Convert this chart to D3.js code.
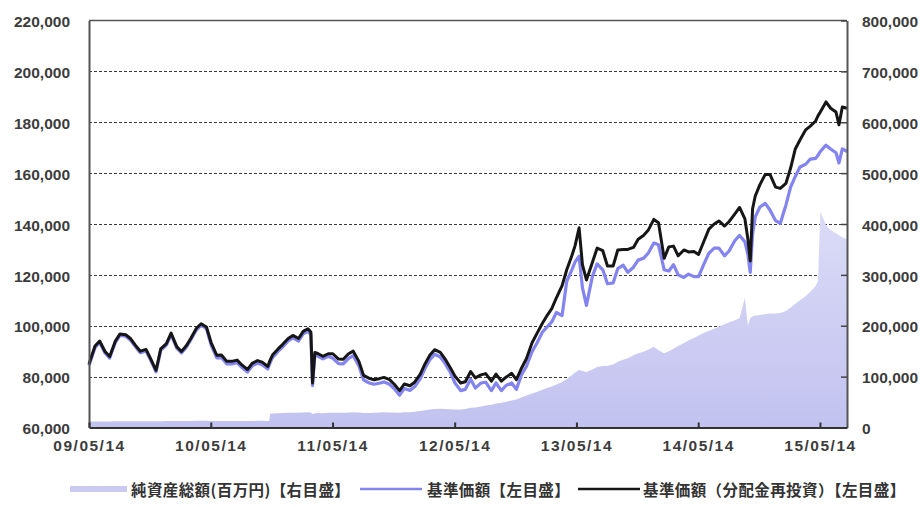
<!DOCTYPE html>
<html><head><meta charset="utf-8">
<script src="https://cdn.jsdelivr.net/npm/d3@7"></script>
<style>body{margin:0;background:#fff;} svg{display:block;}</style>
</head><body>
<svg id="chart" width="920" height="507"></svg>
<script>
const dates = [
"2009-05-14","2009-06-01","2009-06-15","2009-07-01","2009-07-15","2009-08-01","2009-08-15","2009-09-01","2009-09-15","2009-10-01","2009-10-15","2009-11-01","2009-11-15","2009-12-01","2009-12-15",
"2010-01-01","2010-01-15","2010-02-01","2010-02-15","2010-03-01","2010-03-15","2010-04-01","2010-04-15","2010-05-01","2010-05-15","2010-06-01","2010-06-15","2010-07-01","2010-07-15","2010-08-01","2010-08-15","2010-09-01","2010-09-15","2010-10-01","2010-10-15","2010-11-01","2010-11-05","2010-11-08","2010-11-15","2010-12-01","2010-12-15",
"2011-01-01","2011-01-15","2011-02-01","2011-02-15","2011-03-01","2011-03-10","2011-03-15","2011-03-22","2011-04-01","2011-04-15","2011-05-01","2011-05-15","2011-06-01","2011-06-15","2011-07-01","2011-07-15","2011-08-01","2011-08-15","2011-09-01","2011-09-15","2011-10-01","2011-10-15","2011-11-01","2011-11-15","2011-12-01","2011-12-15",
"2012-01-01","2012-01-15","2012-02-01","2012-02-15","2012-03-01","2012-03-15","2012-04-01","2012-04-15","2012-05-01","2012-05-15","2012-06-01","2012-06-15","2012-07-01","2012-07-15","2012-08-01","2012-08-15","2012-09-01","2012-09-15","2012-10-01","2012-10-15","2012-11-01","2012-11-15","2012-12-01","2012-12-15",
"2013-01-01","2013-01-15","2013-02-01","2013-02-15","2013-03-01","2013-03-15","2013-04-01","2013-04-15","2013-05-01","2013-05-10","2013-05-22","2013-06-01","2013-06-13","2013-07-01","2013-07-15","2013-08-01","2013-08-15","2013-09-01","2013-09-15","2013-10-01","2013-10-15","2013-11-01","2013-11-15","2013-12-01","2013-12-15",
"2014-01-01","2014-01-15","2014-02-01","2014-02-15","2014-03-01","2014-03-15","2014-04-01","2014-04-15","2014-05-01","2014-05-15","2014-06-01","2014-06-15","2014-07-01","2014-07-15","2014-08-01","2014-08-15","2014-09-01","2014-09-15","2014-10-01","2014-10-10","2014-10-17","2014-10-24","2014-11-01","2014-11-15","2014-12-01","2014-12-15",
"2015-01-01","2015-01-15","2015-02-01","2015-02-15","2015-03-01","2015-03-15","2015-04-01","2015-04-15","2015-05-01","2015-05-08","2015-05-15","2015-06-01","2015-06-15","2015-07-01","2015-07-10","2015-07-20","2015-08-03"
];
// 基準価額（分配金再投資）
const navReinvested = [
85000,92000,94000,89900,87900,94000,96800,96500,95000,92200,90000,90700,87000,82500,90900,
93000,97100,91800,89900,92000,95000,99000,100800,99500,93400,88400,88500,86000,86000,86500,84600,82800,85200,86300,85700,84000,85500,86500,88500,90800,92600,
95000,96200,95000,97800,98800,97500,77500,89500,89000,88000,89000,89000,86900,86800,89000,90000,86000,80500,79300,78800,79200,79700,78800,77000,74500,77100,
76400,77800,81000,85000,88500,90600,89500,87000,83500,80200,77500,78000,82000,79500,80700,81200,78200,81000,78200,79800,81300,78800,83500,87000,
93300,96800,101000,104000,106700,111000,115800,122000,127800,131500,138500,124000,118000,125000,130500,129500,123500,123500,129800,130000,130000,130800,134000,135500,137500,
141800,140500,126500,131000,131300,127500,129800,129000,129200,128000,133500,138000,140000,141200,139200,141000,144000,146500,142000,134000,125500,146000,151000,155500,159500,159500,
154500,154000,156000,162000,169500,173000,177000,178500,180500,182500,184000,188000,185500,184000,179000,186000,185500
];
// 基準価額
const nav = [
84400,91400,93400,89300,87300,93400,96200,95900,94400,91600,89400,90100,86400,81900,90300,
92400,96500,91200,89300,91400,94400,98400,100200,98900,92400,87400,87500,85000,85000,85500,83600,81800,84200,85300,84700,83000,84500,85500,87500,89800,91600,
94000,95200,94000,96800,97800,96500,76500,88500,88000,87000,88000,87200,85100,85000,87200,88200,84200,78700,77500,77000,77400,77900,77000,75200,72700,75300,
74600,76000,79200,83200,86700,88800,87700,85200,81700,77500,74500,75000,79000,75500,77500,77800,74500,77500,74500,76500,77500,75000,80900,84000,
89800,93000,97500,99500,101500,105200,104000,117500,122200,125100,127300,115000,108000,119500,124300,122000,116500,116800,122500,123800,121000,123000,125800,126500,128500,
132500,131800,122000,121500,124000,120000,119000,120300,119300,119300,124500,128500,130500,130500,127500,129500,133500,135500,133000,128000,121000,136000,142800,146700,148100,145500,
141300,140200,147500,154500,158700,162400,163500,165500,165800,167000,168500,171000,169500,168000,164000,169500,168500
];
// 純資産総額（百万円）
const netAssets = [
12000,12000,11800,11900,12000,12200,12100,12300,12400,12300,12500,12400,12300,12100,12500,
12600,12900,12700,12600,12800,13000,13300,13500,13400,13000,12800,12900,12700,12800,12900,12800,12600,12900,13100,13100,13000,13000,27000,27500,28000,28300,
28800,29000,29000,29500,29800,29500,26500,28000,28300,28200,28800,29000,28800,29000,29600,30000,29500,28500,28600,28800,29300,29800,29600,29500,29000,30000,
30200,31000,32500,34000,35500,36500,36800,36500,36000,35500,35500,36500,39000,39500,41500,43000,44500,47000,48500,50500,53000,55000,59500,63000,
67000,70000,74000,77500,80500,84500,89500,95000,103000,108000,113000,111000,109000,114000,119000,121000,121500,124000,129000,133000,136000,142000,146000,149000,153000,
158500,152000,146000,150000,155000,160000,166000,171000,176000,181000,186000,190000,194000,198000,203000,207000,211000,215000,255000,200000,215000,218000,220000,221000,223000,224000,
224000,225000,229000,236000,243000,250000,258000,267000,278000,288000,425000,398000,388000,382000,378000,374000,370000
];
const leftTicks = [60000,80000,100000,120000,140000,160000,180000,200000,220000];
const rightTicks = [0,100000,200000,300000,400000,500000,600000,700000,800000];
const xTickDates = ["2009-05-14","2010-05-14","2011-05-14","2012-05-14","2013-05-14","2014-05-14","2015-05-14"];
const xTickLabels = ["09/05/14","10/05/14","11/05/14","12/05/14","13/05/14","14/05/14","15/05/14"];
const legendLabels = ["純資産総額(百万円)【右目盛】","基準価額【左目盛】","基準価額（分配金再投資）【左目盛】"];
const xDomain = ["2009-05-14","2015-08-03"];

const parse = d3.timeParse("%Y-%m-%d");
const m = {left:89, right:847, top:20.5, bottom:427.5};
const svg = d3.select("#chart");
const x = d3.scaleTime().domain(xDomain.map(parse)).range([m.left, m.right]);
const yL = d3.scaleLinear().domain([60000,220000]).range([m.bottom, m.top]);
const yR = d3.scaleLinear().domain([0,800000]).range([m.bottom, m.top]);

const data = dates.map((d,i)=>({date:parse(d), nr:navReinvested[i], nav:nav[i], aum:netAssets[i]}));

const defs = svg.append("defs");
const grad = defs.append("linearGradient").attr("id","areaGrad")
  .attr("gradientUnits","userSpaceOnUse").attr("x1",0).attr("x2",0).attr("y1",m.top).attr("y2",m.bottom);
grad.append("stop").attr("offset","0%").attr("stop-color","#f2f2fe");
grad.append("stop").attr("offset","100%").attr("stop-color","#c2c2f0");

// gridlines
svg.append("g").selectAll("line").data(leftTicks.filter(t=>t>60000 && t<220000)).join("line")
  .attr("x1",m.left).attr("x2",m.right).attr("y1",d=>Math.round(yL(d))+0.5).attr("y2",d=>Math.round(yL(d))+0.5)
  .attr("stroke","#3a3a3a").attr("stroke-width",1.2).attr("stroke-dasharray","3,2");

// area
svg.append("path").datum(data)
  .attr("d", d3.area().x(d=>x(d.date)).y0(yR(0)).y1(d=>yR(d.aum)))
  .attr("fill","url(#areaGrad)");

// lines
svg.append("path").datum(data)
  .attr("d", d3.line().x(d=>x(d.date)).y(d=>yL(d.nav)))
  .attr("fill","none").attr("stroke","#8484f0").attr("stroke-width",3.2).attr("stroke-linejoin","round");
svg.append("path").datum(data)
  .attr("d", d3.line().x(d=>x(d.date)).y(d=>yL(d.nr)))
  .attr("fill","none").attr("stroke","#161616").attr("stroke-width",3).attr("stroke-linejoin","round");

// top frame
svg.append("line").attr("x1",m.left).attr("x2",m.right).attr("y1",m.top).attr("y2",m.top)
  .attr("stroke","#555").attr("stroke-width",1.5);

const fontNum = "'Liberation Sans', Arial, sans-serif";
// left axis
const gL = svg.append("g").attr("transform",`translate(${m.left},0)`)
  .call(d3.axisLeft(yL).tickValues(leftTicks).tickFormat(d3.format(",")).tickSize(0).tickPadding(19));
gL.select(".domain").attr("stroke","#555").attr("stroke-width",2);
gL.selectAll("text").attr("font-family",fontNum).attr("font-size",15.5).attr("font-weight","bold").attr("fill","#3c3c3c").attr("dy","0.4em");

// right axis
const gR = svg.append("g").attr("transform",`translate(${m.right},0)`)
  .call(d3.axisRight(yR).tickValues(rightTicks).tickFormat(d3.format(",")).tickSizeInner(-6).tickSizeOuter(0).tickPadding(15));
gR.select(".domain").attr("stroke","#555").attr("stroke-width",2);
gR.selectAll(".tick line").attr("stroke","#444").attr("stroke-width",1.5);
gR.selectAll("text").attr("font-family",fontNum).attr("font-size",15.5).attr("font-weight","bold").attr("fill","#3c3c3c").attr("dy","0.4em");

// bottom axis
const gB = svg.append("g").attr("transform",`translate(0,${m.bottom})`)
  .call(d3.axisBottom(x).tickValues(xTickDates.map(parse)).tickFormat((d,i)=>xTickLabels[i]).tickSizeInner(-5).tickSizeOuter(0).tickPadding(12));
gB.select(".domain").attr("stroke","#333").attr("stroke-width",2);
gB.selectAll(".tick line").attr("stroke","#333").attr("stroke-width",2);
gB.selectAll("text").attr("font-family",fontNum).attr("font-size",15.5).attr("font-weight","bold").attr("fill","#3c3c3c").attr("letter-spacing","1.5px");

// legend
const legY = 489;
const lg = svg.append("g");
const legFont = "'Noto Sans CJK JP', sans-serif";
lg.append("rect").attr("x",70).attr("y",legY-3).attr("width",57).attr("height",6).attr("fill","#cacaf3");
lg.append("line").attr("x1",360).attr("x2",422).attr("y1",legY).attr("y2",legY).attr("stroke","#8484f0").attr("stroke-width",2.5);
lg.append("line").attr("x1",578).attr("x2",640).attr("y1",legY).attr("y2",legY).attr("stroke","#161616").attr("stroke-width",2.5);
const legX = [131, 427, 643];
legendLabels.forEach((t,i)=>{
  lg.append("text").attr("x",legX[i]).attr("y",legY).attr("dominant-baseline","central")
    .attr("font-family",legFont).attr("font-size",15.5).attr("font-weight","bold").attr("letter-spacing","0.4px")
    .attr("fill","#333").text(t);
});
</script>
</body></html>
